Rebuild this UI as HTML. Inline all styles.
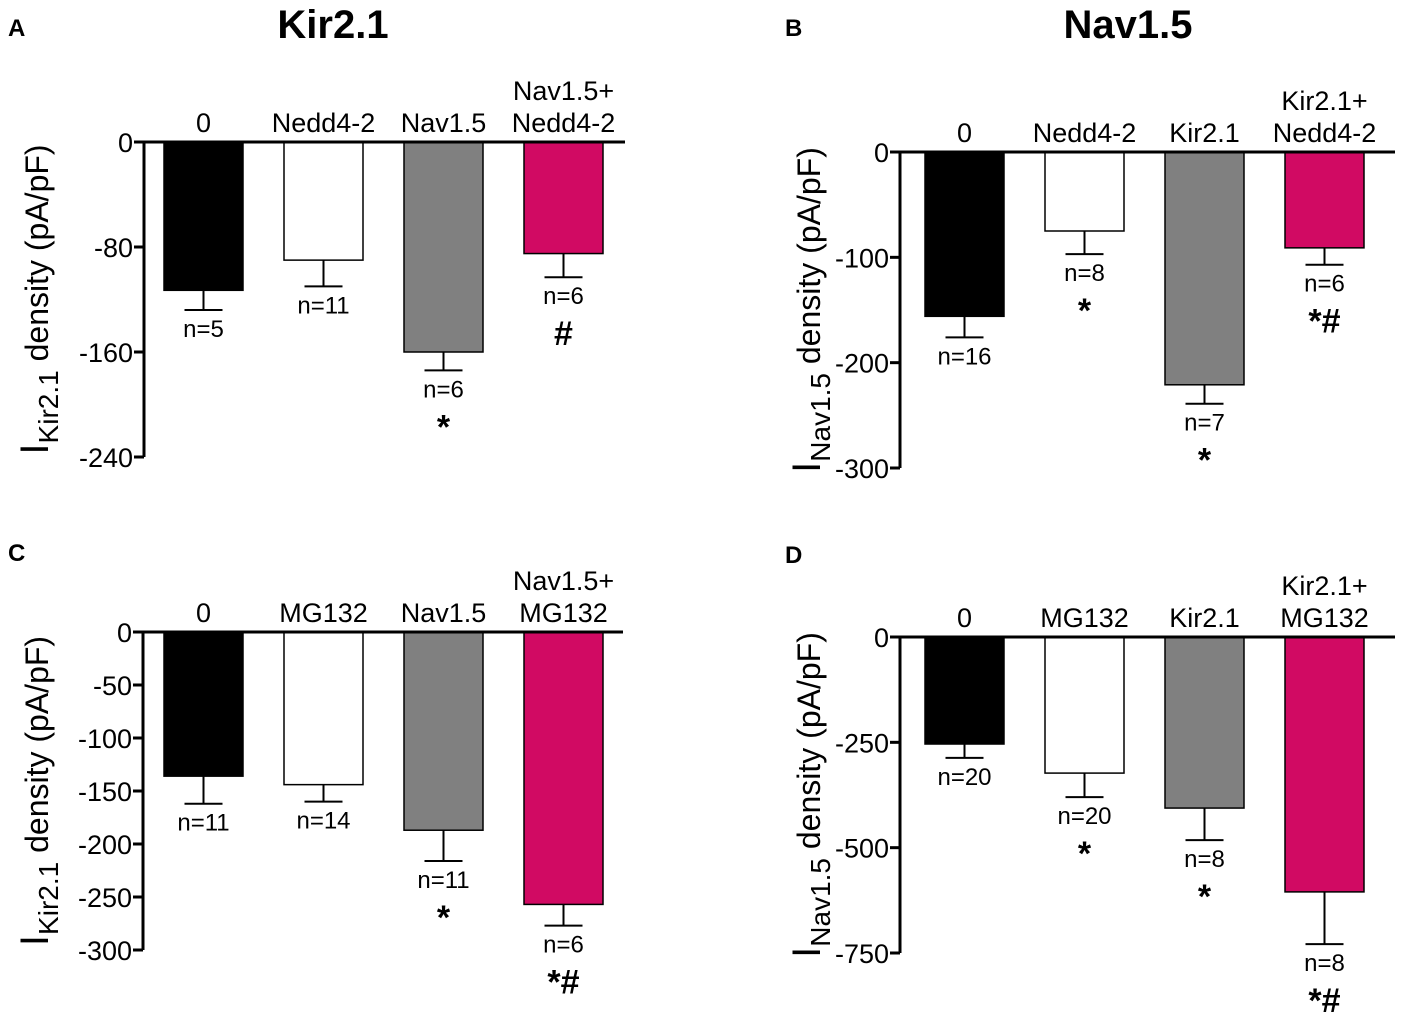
<!DOCTYPE html>
<html><head><meta charset="utf-8"><style>
body{margin:0;background:#fff}
svg{font-family:"Liberation Sans",Arial,sans-serif}
</style></head><body>
<svg id="fig" width="1403" height="1024" viewBox="0 0 1403 1024" xmlns="http://www.w3.org/2000/svg">
<text x="8" y="36" font-size="24" font-weight="bold">A</text>
<text x="785" y="36" font-size="24" font-weight="bold">B</text>
<text x="8" y="561" font-size="24" font-weight="bold">C</text>
<text x="785" y="563" font-size="24" font-weight="bold">D</text>
<text x="333" y="38" font-size="40" font-weight="bold" text-anchor="middle">Kir2.1</text>
<text x="1128" y="38" font-size="40" font-weight="bold" text-anchor="middle">Nav1.5</text>
</svg>
<script>
// Panel A
const catsA=[["0"],["Nedd4-2"],["Nav1.5"],["Nav1.5+","Nedd4-2"]];
const valsA=[-113,-90,-160,-85];
const errsA=[15,20,14,18];
const nA=["n=5","n=11","n=6","n=6"];
const sigA=["","","*","#"];
const ticksA=[0,-80,-160,-240];
// Panel B
const catsB=[["0"],["Nedd4-2"],["Kir2.1"],["Kir2.1+","Nedd4-2"]];
const valsB=[-156,-75,-221,-91];
const errsB=[20,22,18,16];
const nB=["n=16","n=8","n=7","n=6"];
const sigB=["","*","*","*#"];
const ticksB=[0,-100,-200,-300];
// Panel C
const catsC=[["0"],["MG132"],["Nav1.5"],["Nav1.5+","MG132"]];
const valsC=[-136,-144,-187,-257];
const errsC=[26,16,29,20];
const nC=["n=11","n=14","n=11","n=6"];
const sigC=["","","*","*#"];
const ticksC=[0,-50,-100,-150,-200,-250,-300];
// Panel D
const catsD=[["0"],["MG132"],["Kir2.1"],["Kir2.1+","MG132"]];
const valsD=[-254,-323,-406,-605];
const errsD=[33,57,76,124];
const nD=["n=20","n=20","n=8","n=8"];
const sigD=["","*","*","*#"];
const ticksD=[0,-250,-500,-750];

const colors=["#000000","#ffffff","#808080","#d10a63"];
const NS="http://www.w3.org/2000/svg";
const svg=document.getElementById('fig');
function mk(tag,attrs,parent){const e=document.createElementNS(NS,tag);for(const k in attrs)e.setAttribute(k,attrs[k]);(parent||svg).appendChild(e);return e;}

function panel(p){
  const g=mk('g',{});
  
  
  const y=v=>p.y0+(v/p.min)*(p.yMin-p.y0);
  const bx=[p.bx0,p.bx0+120,p.bx0+240,p.bx0+360];
  p.vals.forEach((v,i)=>{
    const r=mk('rect',{x:bx[i],y:y(0),width:p.bw,height:y(v)-y(0),fill:colors[i],stroke:'#000','stroke-width':1.5},g);
    
    
    const cx=bx[i]+p.bw/2;const ye=y(v-p.errs[i]);
    const eb=mk('path',{d:`M${cx},${y(v)} V${ye} M${cx-19},${ye} H${cx+19}`,stroke:'#000','stroke-width':2,fill:'none'},g);
    
    
    const nt=mk('text',{x:cx,y:ye+27,'font-size':24,'text-anchor':'middle'},g);nt.textContent=p.n[i];
    
    
    if(p.sig[i]){const st=mk('text',{x:cx,y:ye+68,'font-size':34,'font-weight':'bold','text-anchor':'middle'},g);st.textContent=p.sig[i];
      
      }
    const lines=p.cats[i];
    lines.forEach((t,k)=>{const ct=mk('text',{x:cx,y:y(0)-10-(lines.length-1-k)*32,'font-size':27,'text-anchor':'middle'},g);ct.textContent=t;
      
      });
  });
  const ax=mk('path',{d:`M${p.ax},${y(0)} V${y(p.min)} M${p.ax},${y(0)} H${p.axEnd}`,stroke:'#000','stroke-width':3,fill:'none'},g);
  
  
  p.ticks.forEach(t=>{
    const tk=mk('line',{x1:p.ax-10,x2:p.ax,y1:y(t),y2:y(t),stroke:'#000','stroke-width':3},g);
    
    
    const tl=mk('text',{x:p.ax-11,y:y(t)+10,'font-size':27,'text-anchor':'end'},g);tl.textContent=t;
    
    
  });
  const yc=(y(0)+y(p.min))/2;
  const tt=mk('text',{x:0,y:0,'font-size':32,'text-anchor':'middle',transform:`translate(${p.tx},${yc}) rotate(-90)`},g);
  
  
  const t1=mk('tspan',{'font-size':40},tt);t1.textContent='I';
  const t2=mk('tspan',{dy:10,'font-size':28},tt);t2.textContent=p.sub;
  const t3=mk('tspan',{dy:-10},tt);t3.textContent=' density (pA/pF)';
}
panel({id:'panel-a',cats:catsA,vals:valsA,errs:errsA,n:nA,sig:sigA,ticks:ticksA,min:-240,y0:142,yMin:457,ax:144,axEnd:625,bx0:164,bw:79,tx:48,sub:'Kir2.1'});
panel({id:'panel-b',cats:catsB,vals:valsB,errs:errsB,n:nB,sig:sigB,ticks:ticksB,min:-300,y0:152,yMin:468,ax:900,axEnd:1395,bx0:925,bw:79,tx:820,sub:'Nav1.5'});
panel({id:'panel-c',cats:catsC,vals:valsC,errs:errsC,n:nC,sig:sigC,ticks:ticksC,min:-300,y0:632,yMin:950,ax:143,axEnd:623,bx0:164,bw:79,tx:48,sub:'Kir2.1'});
panel({id:'panel-d',cats:catsD,vals:valsD,errs:errsD,n:nD,sig:sigD,ticks:ticksD,min:-750,y0:637,yMin:953,ax:900,axEnd:1395,bx0:925,bw:79,tx:820,sub:'Nav1.5'});
</script>
</body></html>
